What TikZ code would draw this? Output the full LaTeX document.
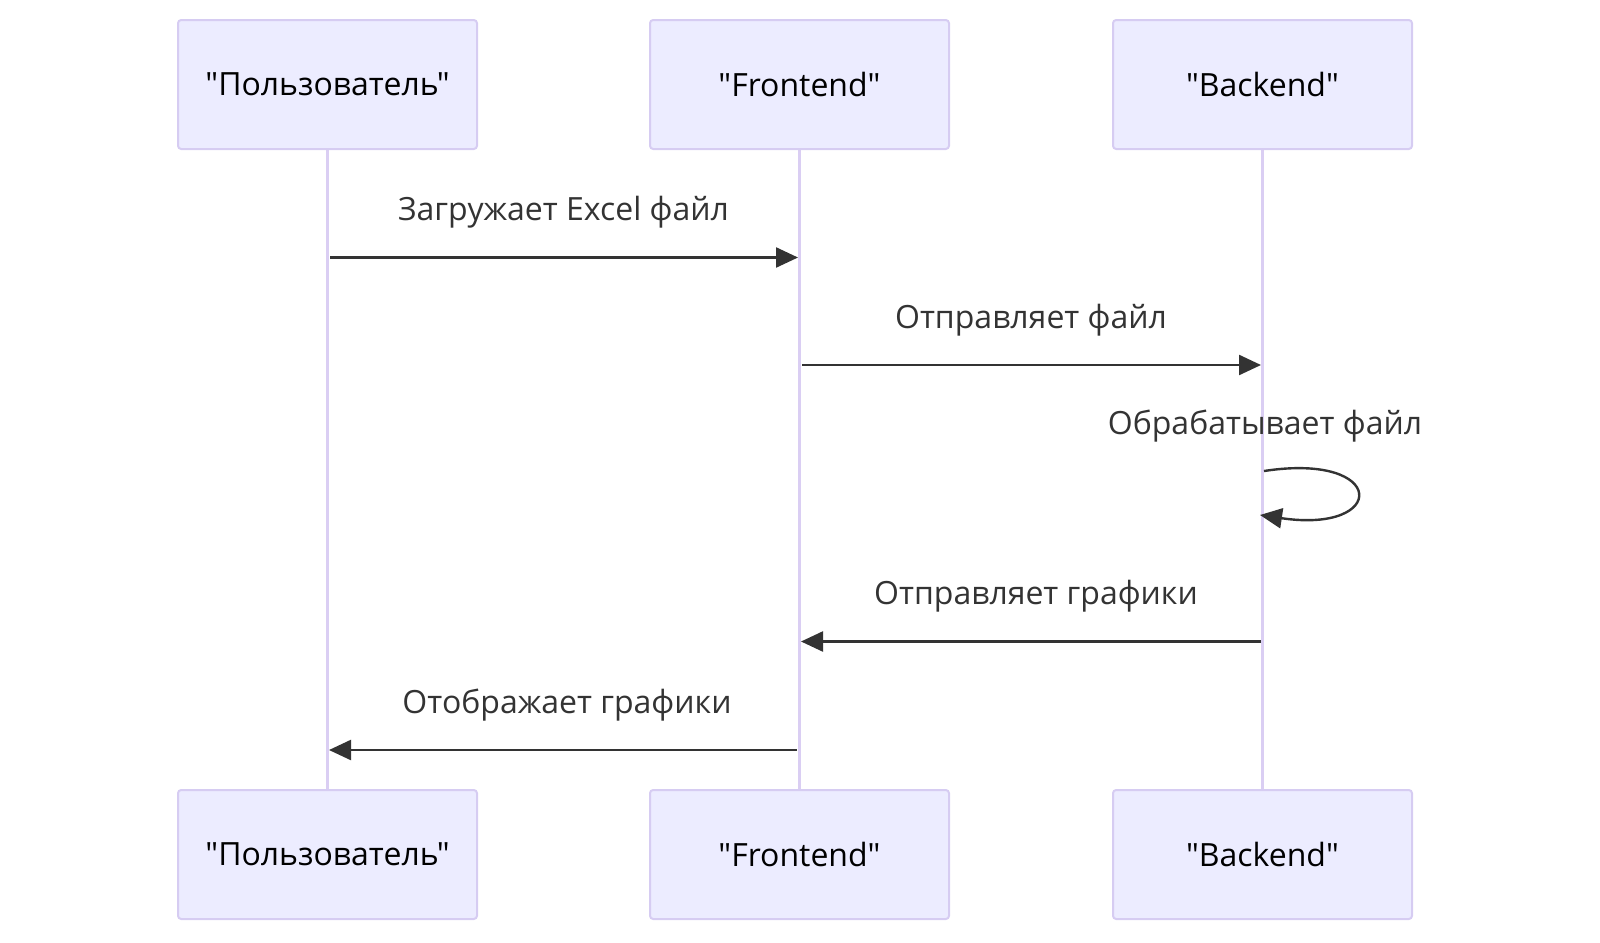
\documentclass[tikz,border=0pt]{standalone}
\usepackage{fontspec}
\setmainfont{Open Sans}[Ligatures=TeXOff]
\usetikzlibrary{arrows.meta}
\definecolor{actfill}{HTML}{ECECFF}
\definecolor{actdraw}{HTML}{D6CCF2}
\definecolor{lifec}{HTML}{DACEF3}
\definecolor{msgc}{HTML}{333333}
\tikzset{
  actor/.style={draw=actdraw, fill=actfill, line width=1pt, rounded corners=1.6pt,
    minimum width=149.5pt, minimum height=64.5pt, inner sep=0pt,
    font=\fontsize{16}{19}\selectfont, text=black},
  life/.style={draw=lifec, line width=1.9pt},
  msgline/.style={draw=msgc, line width=1.2pt, -{Triangle[length=11pt,width=10pt]}},
  msglabel/.style={anchor=base, text=msgc, font=\fontsize{16}{19}\selectfont, inner sep=0pt}
}
\begin{document}
\begin{tikzpicture}[x=0.5pt,y=-0.5pt]
\useasboundingbox (0,0) rectangle (1600,942);
% lifelines positions
\coordinate (ut) at (327.5,149);
\coordinate (ft) at (799.5,149);
\coordinate (bt) at (1262.5,149);
\coordinate (ub) at (327.5,790);
\coordinate (fb) at (799.5,790);
\coordinate (bb) at (1262.5,790);
\draw[life] (ut) -- (ub);
\draw[life] (ft) -- (fb);
\draw[life] (bt) -- (bb);
% actors
\node[actor] (u) at (327.5,84.5) {"Пользователь"};
\node[actor] (f) at (799.5,84.5) {"Frontend"};
\node[actor] (b) at (1262.5,84.5) {"Backend"};
\node[actor] (u2) at (327.5,854.5) {"Пользователь"};
\node[actor] (f2) at (799.5,854.5) {"Frontend"};
\node[actor] (b2) at (1262.5,854.5) {"Backend"};
% message 1
\coordinate (m1s) at (330,257.5);
\coordinate (m1e) at (798,257.5);
\draw[msgline] (m1s) -- (m1e);
\node[msglabel] (l1) at (563.5,220.5) {Загружает Excel файл};
% message 2
\coordinate (m2s) at (802,365);
\coordinate (m2e) at (1261,365);
\draw[msgline] (m2s) -- (m2e);
\node[msglabel] (l2) at (1031,328) {Отправляет файл};
% self message
\coordinate (m3s) at (1264,471);
\coordinate (m3e) at (1260,515);
\draw[msgline] (m3s) .. controls (1388,452) and (1388,534) .. (m3e);
\node[msglabel] (l3) at (1265,434) {Обрабатывает файл};
% message 4
\coordinate (m4s) at (1261,641.5);
\coordinate (m4e) at (801,641.5);
\draw[msgline] (m4s) -- (m4e);
\node[msglabel] (l4) at (1036,604.5) {Отправляет графики};
% message 5
\coordinate (m5s) at (797,750);
\coordinate (m5e) at (329,750);
\draw[msgline] (m5s) -- (m5e);
\node[msglabel] (l5) at (567,713) {Отображает графики};
\end{tikzpicture}
\end{document}
